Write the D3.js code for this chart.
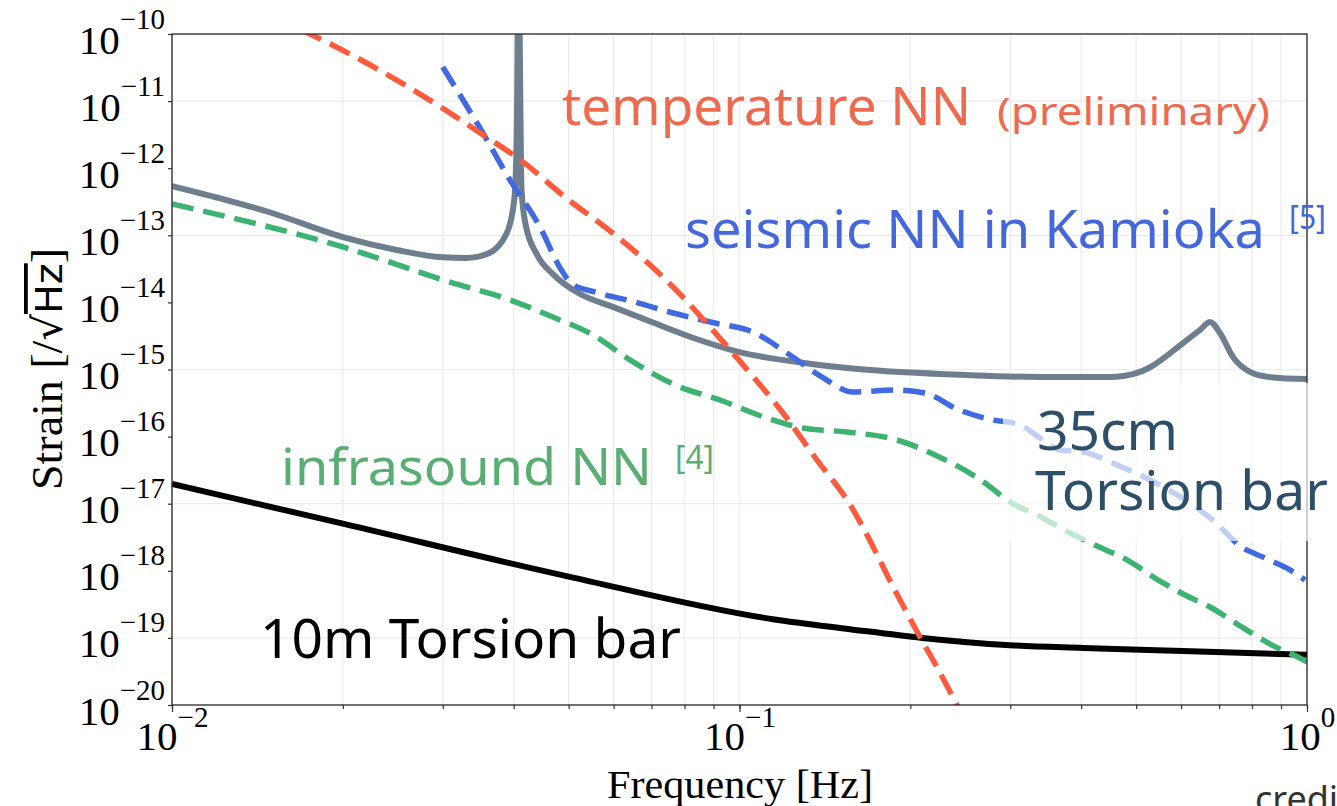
<!DOCTYPE html>
<html>
<head>
<meta charset="utf-8">
<script src="https://cdn.jsdelivr.net/npm/d3@7"></script>
<style>
  body { margin: 0; background: #fff; overflow: hidden; }
  svg { display: block; }
</style>
</head>
<body>
<svg width="1337" height="806"></svg>
<script>
// frequency [Hz] / strain [1/sqrt(Hz)]
const torsion10mFreq = [0.01, 0.02, 0.05, 0.1145, 0.1565, 0.2097, 0.2997, 0.403, 0.6045, 1.0]
const torsion10mStrain = [1.97e-17, 5.04e-18, 8.2e-19, 1.9e-19, 1.35e-19, 1.0e-19, 7.8e-20, 7.1e-20, 6.4e-20, 5.6e-20]

const torsion35cmFreq = [0.01, 0.015, 0.02, 0.025, 0.03, 0.033, 0.036, 0.0389, 0.0401, 0.0405, 0.0408, 0.0413, 0.042, 0.044, 0.047, 0.052, 0.06, 0.07, 0.085, 0.1, 0.13, 0.17, 0.25, 0.35, 0.45, 0.5, 0.53, 0.6045, 0.6477, 0.6746, 0.7025, 0.7407, 0.7937, 0.8606, 1.0]
const torsion35cmStrain = [5.4e-13, 2.15e-13, 9.4e-14, 6.0e-14, 4.7e-14, 4.6e-14, 5.3e-14, 1.08e-13, 3.4e-13, 3e-12, 1e-9, 4.7e-13, 1.43e-13, 5.1e-14, 2.6e-14, 1.38e-14, 8.5e-15, 5.1e-15, 2.75e-15, 1.81e-15, 1.25e-15, 9.8e-16, 8.3e-16, 7.7e-16, 7.7e-16, 8.8e-16, 1.09e-15, 2.48e-15, 3.88e-15, 5.1e-15, 3.5e-15, 1.53e-15, 9.2e-16, 7.7e-16, 7.2e-16]

const temperatureFreq = [0.015, 0.0175, 0.0309, 0.0349, 0.0411, 0.0497, 0.0598, 0.0696, 0.0795, 0.0852, 0.1043, 0.1193, 0.1369, 0.1547, 0.1918, 0.208, 0.2228, 0.2417, 0.26]
const temperatureStrain = [1.8e-10, 1e-10, 6.65e-12, 3.35e-12, 1.33e-12, 3.5e-13, 1.08e-13, 3.6e-14, 1.2e-14, 6.3e-15, 8.9e-16, 2.25e-16, 4.48e-17, 1.14e-17, 3.67e-19, 1.03e-19, 3.68e-20, 1e-20, 3e-21]

const seismicFreq = [0.03, 0.0353, 0.0394, 0.0445, 0.0483, 0.0507, 0.0556, 0.0655, 0.0764, 0.0905, 0.1056, 0.1227, 0.1398, 0.1585, 0.1888, 0.2123, 0.2417, 0.2741, 0.3122, 0.3425, 0.3671, 0.403, 0.4627, 0.529, 0.6219, 0.6884, 0.762, 0.8433, 0.9333, 0.992]
const seismicStrain = [3.22e-11, 3.35e-12, 6.67e-13, 1.33e-13, 3.26e-14, 1.88e-14, 1.43e-14, 1.01e-14, 6.95e-15, 4.93e-15, 3.62e-15, 1.64e-15, 7.7e-16, 4.62e-16, 4.95e-16, 4.47e-16, 2.58e-16, 1.83e-16, 1.49e-16, 8.9e-17, 6.3e-17, 5.9e-17, 3.78e-17, 2.26e-17, 1.02e-17, 5.33e-18, 2.34e-18, 1.55e-18, 1.03e-18, 7.3e-19]

const infrasoundFreq = [0.01, 0.02, 0.0309, 0.0394, 0.0469, 0.0552, 0.0641, 0.077, 0.0924, 0.1118, 0.1294, 0.1547, 0.1895, 0.2211, 0.2708, 0.2997, 0.3343, 0.3793, 0.4266, 0.4818, 0.5398, 0.6095, 0.6746, 0.7683, 0.8676, 0.972, 1.0]
const infrasoundStrain = [2.93e-13, 6.7e-14, 2.01e-14, 1.09e-14, 6.05e-15, 3.27e-15, 1.39e-15, 5.88e-16, 3.51e-16, 1.89e-16, 1.34e-16, 1.17e-16, 8.9e-17, 5.32e-17, 2.04e-17, 1.06e-17, 6.79e-18, 3.79e-18, 2.34e-18, 1.45e-18, 7.8e-19, 4.36e-19, 2.89e-19, 1.45e-19, 7.8e-20, 5.0e-20, 4.37e-20]

const xTicks = [0.01, 0.1, 1]
const xTickExponents = ["\u22122", "\u22121", "0"]
const yTicks = [1e-20, 1e-19, 1e-18, 1e-17, 1e-16, 1e-15, 1e-14, 1e-13, 1e-12, 1e-11, 1e-10]
const yTickExponents = ["\u221220", "\u221219", "\u221218", "\u221217", "\u221216", "\u221215", "\u221214", "\u221213", "\u221212", "\u221211", "\u221210"]
const yGridValues = [1e-19, 1e-17, 1e-15, 1e-13, 1e-11]

const serif = "'Liberation Serif', 'Times New Roman', serif"
const sans = "'Noto Sans', 'Open Sans', sans-serif"

const xScale = d3.scaleLog().domain([0.01, 1]).range([172, 1307])
const yScale = d3.scaleLog().domain([1e-20, 1e-10]).range([705, 34])

function addGrid(){
    const grid = d3.select("svg").append("g").attr("id", "grid")

    grid.selectAll("line.vgrid")
        .data(xScale.ticks())
        .enter()
        .append("line")
        .attr("class", "vgrid")
        .attr("x1", d => xScale(d))
        .attr("x2", d => xScale(d))
        .attr("y1", 34)
        .attr("y2", 705)
        .attr("stroke", "#ebebeb")
        .attr("stroke-width", 1.2)

    grid.selectAll("line.hgrid")
        .data(yGridValues)
        .enter()
        .append("line")
        .attr("class", "hgrid")
        .attr("x1", 172)
        .attr("x2", 1307)
        .attr("y1", d => yScale(d))
        .attr("y2", d => yScale(d))
        .attr("stroke", "#ebebeb")
        .attr("stroke-width", 1.2)
}

function addLine(freq, strain, color, width, dash){
    const line = d3.line()
        .x(d => xScale(d[0]))
        .y(d => yScale(d[1]))
        .curve(d3.curveMonotoneX)

    d3.select("#plotArea")
        .append("path")
        .attr("d", line(d3.zip(freq, strain)))
        .attr("fill", "none")
        .attr("stroke", color)
        .attr("stroke-width", width)
        .attr("stroke-dasharray", dash)
}

function addLines(){
    const svg = d3.select("svg")
    svg.append("clipPath")
        .attr("id", "clip")
        .append("rect")
        .attr("x", 172)
        .attr("y", 34)
        .attr("width", 1135)
        .attr("height", 671)

    svg.append("g")
        .attr("id", "plotArea")
        .attr("clip-path", "url(#clip)")

    addLine(torsion35cmFreq, torsion35cmStrain, "#6f7e8f", 6, null)
    addLine(torsion10mFreq, torsion10mStrain, "#000000", 6, null)
    addLine(infrasoundFreq, infrasoundStrain, "#3cb371", 5.5, "22,10")
    addLine(seismicFreq, seismicStrain, "#4169e1", 5.5, "22,10")
    addLine(temperatureFreq, temperatureStrain, "#ff5a3c", 5.5, "22,10")
}

function addAxes(){
    const svg = d3.select("svg")

    const xMinor = d3.axisBottom(xScale).tickValues(xScale.ticks()).tickSize(4).tickFormat("")
    const xAxis = d3.axisBottom(xScale).tickValues(xTicks).tickSize(7).tickFormat("")
    const yAxis = d3.axisLeft(yScale).tickValues(yTicks).tickSize(4).tickFormat("")

    svg.append("g")
        .attr("id", "xMinorG")
        .attr("transform", "translate(0, 705)")
        .call(xMinor)

    svg.append("g")
        .attr("id", "xAxisG")
        .attr("transform", "translate(0, 705)")
        .call(xAxis)

    svg.append("g")
        .attr("id", "yAxisG")
        .attr("transform", "translate(172, 0)")
        .call(yAxis)

    svg.selectAll("path.domain").remove()
    svg.selectAll("g.tick line").attr("stroke", "#333").attr("stroke-width", 1.2)

    d3.select("#xAxisG")
        .selectAll("g.tick text")
        .each(function(d, i){
            const t = d3.select(this)
            t.text(null)
                .attr("y", 45)
                .attr("dy", 0)
                .attr("fill", "#000")
                .attr("font-family", serif)
                .attr("font-size", 41)
            t.append("tspan").text("10")
            t.append("tspan").attr("dy", -23).attr("font-size", 29).text(xTickExponents[i])
        })

    d3.select("#yAxisG")
        .selectAll("g.tick text")
        .each(function(d, i){
            const t = d3.select(this)
            t.text(null)
                .attr("x", -7)
                .attr("y", 19)
                .attr("dy", 0)
                .attr("fill", "#000")
                .attr("font-family", serif)
                .attr("font-size", 41)
            t.append("tspan").text("10")
            t.append("tspan").attr("dy", -25).attr("font-size", 29).text(yTickExponents[i])
        })

    svg.append("rect")
        .attr("x", 172)
        .attr("y", 34)
        .attr("width", 1135)
        .attr("height", 671)
        .attr("fill", "none")
        .attr("stroke", "#262626")
        .attr("stroke-width", 1.3)

    svg.append("text")
        .attr("x", 740)
        .attr("y", 798)
        .attr("text-anchor", "middle")
        .attr("font-family", serif)
        .attr("font-size", 41)
        .attr("textLength", 266)
        .attr("lengthAdjust", "spacingAndGlyphs")
        .text("Frequency [Hz]")

    const yLabel = svg.append("text")
        .attr("transform", "translate(62, 369) rotate(-90)")
        .attr("text-anchor", "middle")
        .attr("font-family", serif)
        .attr("font-size", 44)
        .attr("textLength", 242)
        .attr("lengthAdjust", "spacingAndGlyphs")
    yLabel.append("tspan").text("Strain [/")
    yLabel.append("tspan").attr("font-family", "'DejaVu Sans', sans-serif").attr("font-size", 40).text("\u221A")
    yLabel.append("tspan")
        .attr("font-family", "'DejaVu Sans', sans-serif")
        .attr("font-size", 38)
        .style("text-decoration", "overline")
        .text("Hz")
    yLabel.append("tspan").text("]")
}

function addText(txt, x, y, size, color, length){
    d3.select("svg")
        .append("text")
        .attr("x", x)
        .attr("y", y)
        .attr("font-family", sans)
        .attr("font-size", size)
        .attr("fill", color)
        .attr("textLength", length)
        .attr("lengthAdjust", "spacingAndGlyphs")
        .text(txt)
}

function addAnnotations(){
    // translucent box behind the 35cm label
    d3.select("svg")
        .append("rect")
        .attr("x", 1003)
        .attr("y", 383)
        .attr("width", 340)
        .attr("height", 158)
        .attr("fill", "#fff")
        .attr("opacity", 0.68)

    addText("temperature NN", 562, 125, 53, "#ee6a4f", 409)
    addText("(preliminary)", 997, 125, 39, "#ee6a4f", 273)
    addText("seismic NN in Kamioka", 685, 248, 53, "#4468dc", 580)
    addText("[5]", 1289, 229, 33, "#4468dc", 37)
    addText("infrasound NN", 281, 485, 51, "#5aae74", 371)
    addText("[4]", 675, 469, 33, "#5aae74", 39)
    addText("10m Torsion bar", 260, 658, 55, "#000000", 421)
    addText("35cm", 1037, 450, 55, "#2d4f67", 141)
    addText("Torsion bar", 1035, 510, 55, "#2d4f67", 293)

    d3.select("svg")
        .append("text")
        .attr("x", 1255)
        .attr("y", 812)
        .attr("font-family", sans)
        .attr("font-size", 36)
        .attr("fill", "#333")
        .text("credit:")
}

addGrid()
addLines()
addAxes()
addAnnotations()
</script>
</body>
</html>
